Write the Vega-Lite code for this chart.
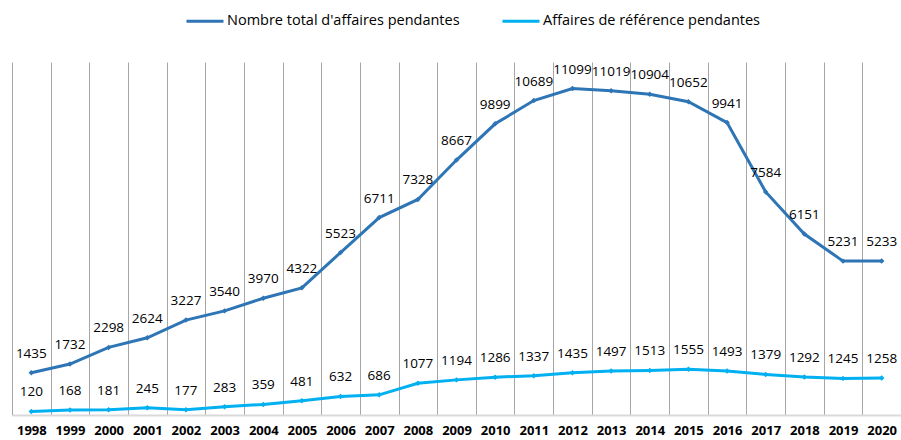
{
  "$schema": "https://vega.github.io/schema/vega-lite/v6.json",
  "width": 889,
  "height": 353,
  "autosize": "none",
  "padding": {"left": 12, "top": 62, "right": 0, "bottom": 25},
  "config": {"view": {"stroke": null}, "font": "Open Sans"},
  "datasets": {
    "d": [
      {"year": 1998, "series": "Nombre total d'affaires pendantes", "value": 1435},
      {"year": 1999, "series": "Nombre total d'affaires pendantes", "value": 1732},
      {"year": 2000, "series": "Nombre total d'affaires pendantes", "value": 2298},
      {"year": 2001, "series": "Nombre total d'affaires pendantes", "value": 2624},
      {"year": 2002, "series": "Nombre total d'affaires pendantes", "value": 3227},
      {"year": 2003, "series": "Nombre total d'affaires pendantes", "value": 3540},
      {"year": 2004, "series": "Nombre total d'affaires pendantes", "value": 3970},
      {"year": 2005, "series": "Nombre total d'affaires pendantes", "value": 4322},
      {"year": 2006, "series": "Nombre total d'affaires pendantes", "value": 5523},
      {"year": 2007, "series": "Nombre total d'affaires pendantes", "value": 6711},
      {"year": 2008, "series": "Nombre total d'affaires pendantes", "value": 7328},
      {"year": 2009, "series": "Nombre total d'affaires pendantes", "value": 8667},
      {"year": 2010, "series": "Nombre total d'affaires pendantes", "value": 9899},
      {"year": 2011, "series": "Nombre total d'affaires pendantes", "value": 10689},
      {"year": 2012, "series": "Nombre total d'affaires pendantes", "value": 11099},
      {"year": 2013, "series": "Nombre total d'affaires pendantes", "value": 11019},
      {"year": 2014, "series": "Nombre total d'affaires pendantes", "value": 10904},
      {"year": 2015, "series": "Nombre total d'affaires pendantes", "value": 10652},
      {"year": 2016, "series": "Nombre total d'affaires pendantes", "value": 9941},
      {"year": 2017, "series": "Nombre total d'affaires pendantes", "value": 7584},
      {"year": 2018, "series": "Nombre total d'affaires pendantes", "value": 6151},
      {"year": 2019, "series": "Nombre total d'affaires pendantes", "value": 5231},
      {"year": 2020, "series": "Nombre total d'affaires pendantes", "value": 5233},
      {"year": 1998, "series": "Affaires de référence pendantes", "value": 120},
      {"year": 1999, "series": "Affaires de référence pendantes", "value": 168},
      {"year": 2000, "series": "Affaires de référence pendantes", "value": 181},
      {"year": 2001, "series": "Affaires de référence pendantes", "value": 245},
      {"year": 2002, "series": "Affaires de référence pendantes", "value": 177},
      {"year": 2003, "series": "Affaires de référence pendantes", "value": 283},
      {"year": 2004, "series": "Affaires de référence pendantes", "value": 359},
      {"year": 2005, "series": "Affaires de référence pendantes", "value": 481},
      {"year": 2006, "series": "Affaires de référence pendantes", "value": 632},
      {"year": 2007, "series": "Affaires de référence pendantes", "value": 686},
      {"year": 2008, "series": "Affaires de référence pendantes", "value": 1077},
      {"year": 2009, "series": "Affaires de référence pendantes", "value": 1194},
      {"year": 2010, "series": "Affaires de référence pendantes", "value": 1286},
      {"year": 2011, "series": "Affaires de référence pendantes", "value": 1337},
      {"year": 2012, "series": "Affaires de référence pendantes", "value": 1435},
      {"year": 2013, "series": "Affaires de référence pendantes", "value": 1497},
      {"year": 2014, "series": "Affaires de référence pendantes", "value": 1513},
      {"year": 2015, "series": "Affaires de référence pendantes", "value": 1555},
      {"year": 2016, "series": "Affaires de référence pendantes", "value": 1493},
      {"year": 2017, "series": "Affaires de référence pendantes", "value": 1379},
      {"year": 2018, "series": "Affaires de référence pendantes", "value": 1292},
      {"year": 2019, "series": "Affaires de référence pendantes", "value": 1245},
      {"year": 2020, "series": "Affaires de référence pendantes", "value": 1258}
    ]
  },
  "data": {"name": "d"},
  "encoding": {
    "x": {
      "field": "year",
      "type": "ordinal",
      "scale": {"type": "band", "paddingInner": 0, "paddingOuter": 0},
      "axis": {
        "title": null,
        "labelAngle": 0,
        "labelFontWeight": "bold",
        "labelFontSize": 13,
        "labelColor": "#000000",
        "ticks": false,
        "grid": true,
        "tickBand": "extent",
        "gridColor": "#a6a6a6",
        "gridWidth": 1,
        "domainColor": "#d9d9d9",
        "domainWidth": 2,
        "labelPadding": 9
      }
    },
    "y": {
      "field": "value",
      "type": "quantitative",
      "scale": {"domain": [0, 12000]},
      "axis": null
    },
    "color": {
      "field": "series",
      "type": "nominal",
      "scale": {
        "domain": ["Nombre total d'affaires pendantes", "Affaires de référence pendantes"],
        "range": ["#2E75B6", "#00B0F0"]
      },
      "legend": {
        "title": null,
        "orient": "none",
        "legendX": 173,
        "legendY": -61,
        "direction": "horizontal",
        "symbolType": "stroke",
        "symbolSize": 1369,
        "symbolStrokeWidth": 3,
        "labelFontSize": 14.5,
        "labelColor": "#000000",
        "labelLimit": 0,
        "columnPadding": 36,
        "labelOffset": 2
      }
    }
  },
  "layer": [
    {"mark": {"type": "line", "strokeWidth": 3}},
    {"mark": {"type": "point", "shape": "diamond", "filled": true, "size": 30, "opacity": 1}},
    {
      "mark": {"type": "text", "dy": -19, "fontSize": 13.5},
      "encoding": {
        "text": {"field": "value", "type": "quantitative", "format": "d"},
        "color": {"value": "#000000"}
      }
    }
  ]
}
